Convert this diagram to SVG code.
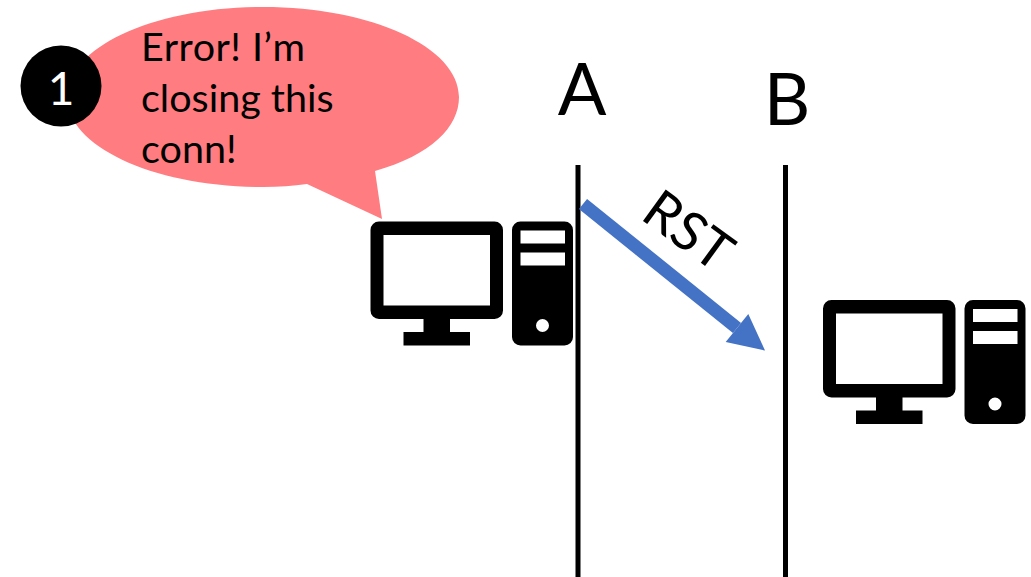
<svg xmlns="http://www.w3.org/2000/svg" width="1031" height="577" viewBox="0 0 1031 577">
<style>
text{font-family:"Lato","Open Sans","Liberation Sans",sans-serif;fill:#000}
.say{font-size:39.500px}
.host{font-size:72px}
.life{stroke:#000;stroke-width:5;fill:none}
</style>
<defs>
<marker id="head" markerUnits="userSpaceOnUse" markerWidth="40" markerHeight="40" refX="0" refY="20" orient="auto" overflow="visible"><path d="M0,2 L36,20 L0,38Z" fill="#4472c4"/></marker>
<g id="pc">
<path fill-rule="evenodd" d="M379,221.5H494.500A8.500,8.500 0 0 1 503,230V310.500A8.500,8.500 0 0 1 494.500,319H450V332H470V345.500H403.500V332H423.500V319H379A8.500,8.500 0 0 1 370.500,310.500V230A8.500,8.500 0 0 1 379,221.500ZM383.500,235V305.500H490V235Z"/>
<path fill-rule="evenodd" d="M520.500,221.500H564.500A8.500,8.500 0 0 1 573,230V337A8.500,8.500 0 0 1 564.500,345.500H520.500A8.500,8.500 0 0 1 512,337V230A8.500,8.500 0 0 1 520.500,221.500ZM520.500,230.500V243.500H565V230.500ZM520.500,252.500V265.500H565V252.500ZM549,325.500A6.500,6.500 0 1 0 536,325.500A6.500,6.500 0 1 0 549,325.500Z"/>
</g>
</defs>
<g id="connectors">
<line class="life" x1="578" y1="165" x2="578" y2="577"/>
<line class="life" x1="785.500" y1="165" x2="785.500" y2="577"/>
<line x1="583" y1="204" x2="737" y2="328" stroke="#4472c4" stroke-width="13" marker-end="url(#head)"/>
</g>
<g id="callout">
<path fill="#ff7c80" d="M307,184L382,219L375,171C431,155 459,127 459,97C459,47 371,7 263,7C155,7 67,47 67,97C67,147 155,187 263,187C279,187 293,186 307,184Z"/>
<text class="say" x="141" y="61" textLength="164">Error! I’m</text>
<text class="say" x="141" y="112">closing this</text>
<text class="say" x="141" y="163">conn!</text>
</g>
<g id="badge">
<circle cx="61" cy="86" r="40.500" fill="#000"/>
<text x="61" y="105" font-size="46" text-anchor="middle" style="fill:#fff">1</text>
</g>
<g id="host-a">
<use href="#pc"/>
<text class="host" x="582" y="115" text-anchor="middle">A</text>
</g>
<g id="host-b">
<use href="#pc" x="452.500" y="78.500"/>
<text class="host" x="787" y="125" text-anchor="middle">B</text>
</g>
<g id="rst-label">
<text x="0" y="0" font-size="54" transform="translate(639,218) rotate(36)">RST</text>
</g>
</svg>
